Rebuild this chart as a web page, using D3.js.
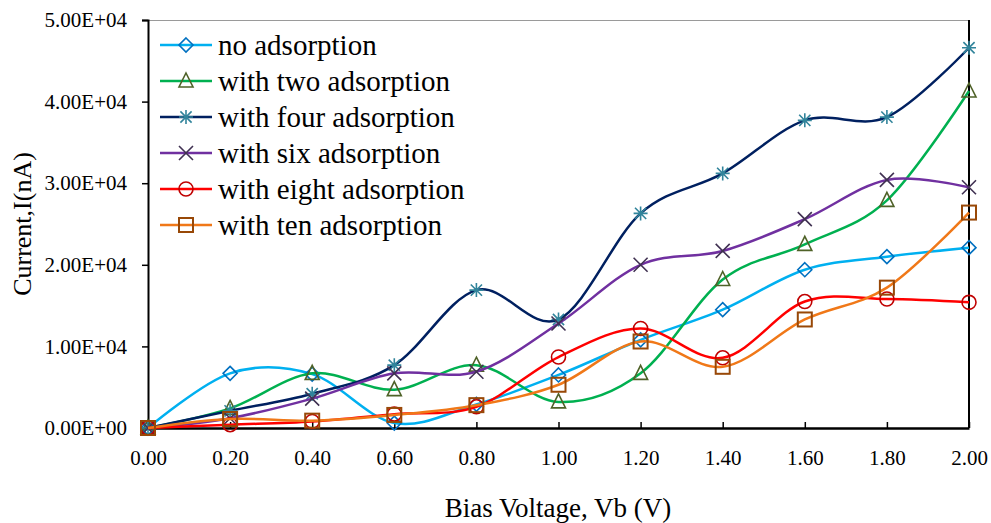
<!DOCTYPE html>
<html>
<head>
<meta charset="utf-8">
<script src="https://cdn.jsdelivr.net/npm/d3@7"></script>
<style>
  body { margin: 0; background: #fff; }
  svg { display: block; }
  text { font-family: "Liberation Serif", serif; }
</style>
</head>
<body>
<svg id="chart" width="991" height="523"></svg>
<script>
// bias voltage (V)
const volts = [0, 0.2, 0.4, 0.6, 0.8, 1.0, 1.2, 1.4, 1.6, 1.8, 2.0];
const xTicks = [0, 0.2, 0.4, 0.6, 0.8, 1.0, 1.2, 1.4, 1.6, 1.8, 2.0];
const yTicks = [0, 10000, 20000, 30000, 40000, 50000];

// current (nA)
const noAdsorption    = [0, 6700, 6600, 600, 2900, 6500, 10800, 14500, 19400, 21000, 22100];
const twoAdsorption   = [0, 2400, 6700, 4700, 7700, 3200, 6700, 18200, 22500, 27900, 41300];
const fourAdsorption  = [0, 2100, 4200, 7700, 16900, 13300, 26300, 31200, 37700, 38100, 46600];
const sixAdsorption   = [0, 1200, 3600, 6700, 6900, 12800, 20000, 21700, 25600, 30400, 29500];
const eightAdsorption = [0, 400, 800, 1700, 2600, 8700, 12200, 8600, 15500, 15800, 15400];
const tenAdsorption   = [0, 1100, 900, 1600, 2800, 5300, 10600, 7500, 13300, 17200, 26400];

const seriesNames = ["no adsorption", "with two adsorption", "with four adsorption",
                     "with six adsorption", "with eight adsorption", "with ten adsorption"];
const seriesValues = [noAdsorption, twoAdsorption, fourAdsorption, sixAdsorption, eightAdsorption, tenAdsorption];
const lineColors = ["#00B0F0", "#00B050", "#002060", "#7030A0", "#FF0000", "#F07818"];
const markColors = ["#0070C0", "#4F6228", "#31849B", "#403152", "#C00000", "#984807"];
const markShapes = ["diamond", "triangle", "star", "x", "circle", "square"];

const margin = {top: 20, right: 22, bottom: 95, left: 148};
const width = 991, height = 523;
const serif = "Liberation Serif";

const svg = d3.select("#chart");

const x = d3.scaleLinear().domain([0, 2]).range([margin.left, width - margin.right]);
const y = d3.scaleLinear().domain([0, 50000]).range([height - margin.bottom, margin.top]);

function sciFormat(v) {
    let s = v.toExponential(2).toUpperCase(); // e.g. 5.00E+4
    let parts = s.split("E");
    let sign = parts[1][0];
    let exp = parts[1].slice(1).padStart(2, "0");
    return parts[0] + "E" + sign + exp;
}

// top border (thin grey) and right border
svg.append("line")
    .attr("x1", x(0)).attr("x2", x(2))
    .attr("y1", y(50000) + 0.5).attr("y2", y(50000) + 0.5)
    .attr("stroke", "#9a9a9a").attr("stroke-width", 1);
svg.append("line")
    .attr("x1", x(2)).attr("x2", x(2))
    .attr("y1", y(50000)).attr("y2", y(0))
    .attr("stroke", "#000").attr("stroke-width", 2);

// y axis
const yAxis = svg.append("g")
    .attr("transform", `translate(${x(0)},0)`)
    .call(d3.axisLeft(y).tickValues(yTicks).tickFormat(sciFormat).tickSize(6).tickPadding(15));
yAxis.attr("font-family", serif);
yAxis.select(".domain").attr("stroke-width", 2);
yAxis.selectAll(".tick line").attr("stroke-width", 1.5);
yAxis.selectAll("text").attr("font-size", 21).attr("font-family", serif).attr("fill", "#000");

// x axis, ticks pointing inward
const xAxis = svg.append("g")
    .attr("transform", `translate(0,${y(0)})`)
    .call(d3.axisBottom(x).tickValues(xTicks).tickFormat(d3.format(".2f")).tickSizeInner(-6).tickSizeOuter(0).tickPadding(22));
xAxis.attr("font-family", serif);
xAxis.select(".domain").attr("stroke-width", 2.5);
xAxis.selectAll(".tick line").attr("stroke-width", 1.5);
xAxis.selectAll("text").attr("font-size", 21).attr("font-family", serif).attr("fill", "#000");

// axis titles
svg.append("text")
    .attr("transform", `translate(31,${(y(0) + y(50000)) / 2}) rotate(-90)`)
    .attr("text-anchor", "middle")
    .attr("font-family", serif)
    .attr("font-size", 26)
    .text("Current,I(nA)");

svg.append("text")
    .attr("x", 558)
    .attr("y", 517)
    .attr("text-anchor", "middle")
    .attr("font-family", serif)
    .attr("font-size", 27)
    .text("Bias Voltage, Vb (V)");

// marker drawing
function drawMarker(g, shape, cx, cy, color) {
    const s = 7;
    if (shape == "diamond") {
        g.append("path").attr("d", `M${cx},${cy - s}L${cx + s},${cy}L${cx},${cy + s}L${cx - s},${cy}Z`)
            .attr("fill", "none").attr("stroke", color).attr("stroke-width", 1.6);
    } else if (shape == "triangle") {
        g.append("path").attr("d", `M${cx},${cy - s - 1}L${cx + s},${cy + s - 1}L${cx - s},${cy + s - 1}Z`)
            .attr("fill", "none").attr("stroke", color).attr("stroke-width", 1.6);
    } else if (shape == "star") {
        const d = s * 0.8;
        g.append("path").attr("d", `M${cx},${cy - s}L${cx},${cy + s}M${cx - d},${cy - d}L${cx + d},${cy + d}M${cx - d},${cy + d}L${cx + d},${cy - d}M${cx - s},${cy}L${cx + s},${cy}`)
            .attr("fill", "none").attr("stroke", color).attr("stroke-width", 1.6);
    } else if (shape == "x") {
        const d = s;
        g.append("path").attr("d", `M${cx - d},${cy - d}L${cx + d},${cy + d}M${cx - d},${cy + d}L${cx + d},${cy - d}`)
            .attr("fill", "none").attr("stroke", color).attr("stroke-width", 1.6);
    } else if (shape == "circle") {
        g.append("circle").attr("cx", cx).attr("cy", cy).attr("r", s)
            .attr("fill", "none").attr("stroke", color).attr("stroke-width", 1.6);
    } else if (shape == "square") {
        g.append("rect").attr("x", cx - s).attr("y", cy - s).attr("width", 2 * s).attr("height", 2 * s)
            .attr("fill", "none").attr("stroke", color).attr("stroke-width", 2);
    }
}

const line = d3.line()
    .x((d, i) => x(volts[i]))
    .y(d => y(d))
    .curve(d3.curveCatmullRom.alpha(0));

// series
seriesValues.forEach((vals, k) => {
    const g = svg.append("g");
    g.append("path")
        .attr("d", line(vals))
        .attr("fill", "none")
        .attr("stroke", lineColors[k])
        .attr("stroke-width", 2.5);
    vals.forEach((v, i) => drawMarker(g, markShapes[k], x(volts[i]), y(v), markColors[k]));
});

// legend
const legend = svg.append("g");
seriesNames.forEach((name, k) => {
    const ly = 45 + k * 36;
    legend.append("line")
        .attr("x1", 160).attr("x2", 212)
        .attr("y1", ly).attr("y2", ly)
        .attr("stroke", lineColors[k]).attr("stroke-width", 2.5);
    drawMarker(legend, markShapes[k], 186, ly, markColors[k]);
    legend.append("text")
        .attr("x", 218).attr("y", ly + 10)
        .attr("font-family", serif)
        .attr("font-size", 29)
        .text(name);
});
</script>
</body>
</html>
